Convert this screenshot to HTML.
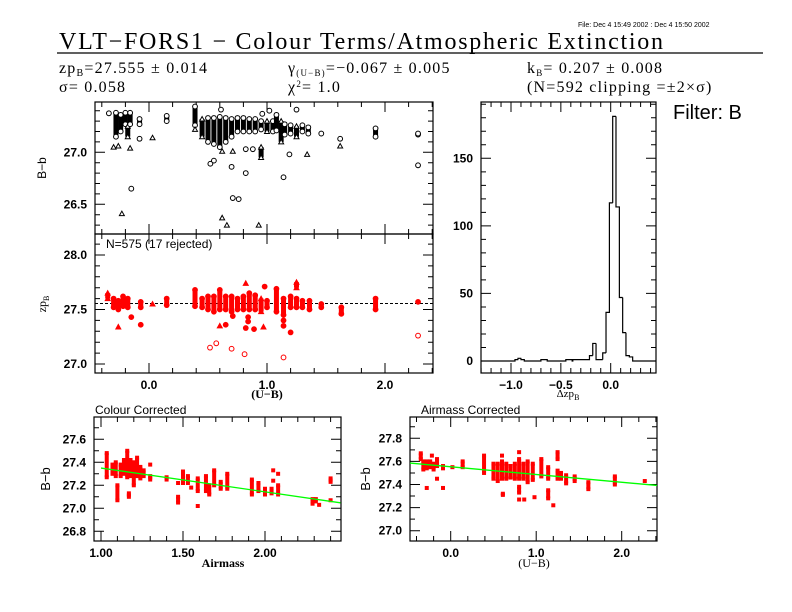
<!DOCTYPE html>
<html><head><meta charset="utf-8"><style>
body{margin:0;background:#fff}
svg{display:block}
text{font-family:"Liberation Sans",sans-serif}
.serif{font-family:"Liberation Serif",serif}
.par{font-family:"Liberation Serif",serif;font-size:16px;letter-spacing:1.2px}
</style></head><body>
<svg id="c" width="792" height="612" viewBox="0 0 792 612">
<text x="578" y="27" font-size="7">File: Dec  4 15:49 2002 : Dec  4 15:50 2002</text>
<text class="serif" x="59" y="49" font-size="24" textLength="604" lengthAdjust="spacing">VLT−FORS1 − Colour Terms/Atmospheric Extinction</text>
<line x1="57" y1="53" x2="763" y2="53" stroke="#000" stroke-width="1.2"/>
<text class="par" x="59" y="73">zp<tspan font-size="10" dy="3">B</tspan><tspan dy="-3">=27.555 ± 0.014</tspan></text>
<text class="par" x="59" y="92">σ= 0.058</text>
<text class="par" x="288" y="73">γ<tspan font-size="9" dy="3">(U−B)</tspan><tspan dy="-3">=−0.067 ± 0.005</tspan></text>
<text class="par" x="288" y="92">χ<tspan font-size="9" dy="-5">2</tspan><tspan dy="5">=  1.0</tspan></text>
<text class="par" x="527" y="73">k<tspan font-size="9" dy="3">B</tspan><tspan dy="-3">= 0.207 ± 0.008</tspan></text>
<text class="par" x="527" y="92">(N=592 clipping =±2×σ)</text>
<text x="673" y="119" font-size="20">Filter: B</text>
<text x="106" y="248" font-size="12">N=575 (17 rejected)</text>
<text x="95" y="414" font-size="12">Colour Corrected</text>
<text x="421" y="414" font-size="12">Airmass Corrected</text>
<text class="serif" x="267" y="398" font-size="12" font-weight="bold" text-anchor="middle">(U−B)</text>
<text class="serif" x="568" y="397" font-size="11" text-anchor="middle">Δzp<tspan font-size="8" dy="3">B</tspan></text>
<text class="serif" x="223" y="567" font-size="12" font-weight="bold" text-anchor="middle">Airmass</text>
<text class="serif" x="534" y="567" font-size="12" text-anchor="middle">(U−B)</text>
<text x="46" y="168" font-size="12" text-anchor="middle" transform="rotate(-90 46 168)">B−b</text>
<text class="serif" x="46" y="304" font-size="12" text-anchor="middle" transform="rotate(-90 46 304)">zp<tspan font-size="8" dy="3">B</tspan></text>
<text x="50" y="479" font-size="13" text-anchor="middle" transform="rotate(-90 50 479)">B−b</text>
<text x="370" y="479" font-size="13" text-anchor="middle" transform="rotate(-90 370 479)">B−b</text>
</svg>
<script>
// ---- top panel (U-B vs B-b, raw) ----
const topX=[-0.34,-0.30,-0.28,-0.26,-0.24,-0.23,-0.20,-0.18,-0.16,-0.15,-0.16,-0.08,-0.08,0.03,0.15,0.39,0.39,0.45,0.50,0.55,0.60,0.65,0.70,0.75,0.80,0.85,0.90,0.95,1.00,1.05,1.08,1.12,1.15,1.20,1.25,1.30,1.35,1.46,1.62,1.62,1.92,2.28,2.28,0.52,0.55,0.70,0.82,1.14,0.71,0.76,0.62,0.66,0.93,1.19,1.34,0.88,0.82,0.71,0.62,0.95,1.25,1.02,0.96,0.61];
const topLo=[27.375,27.05,27.15,27.06,27.20,26.41,27.27,27.15,27.04,26.65,27.27,27.27,27.13,27.14,27.30,27.26,27.22,27.15,27.10,27.08,27.05,27.10,27.15,27.20,27.20,27.20,27.20,27.22,27.20,27.20,27.21,27.10,27.17,27.18,27.15,27.20,27.18,27.18,27.13,27.06,27.15,27.17,26.875,26.89,26.92,26.86,26.80,26.76,26.56,26.55,26.37,26.30,26.30,26.98,26.98,27.03,27.03,27.01,27.01,26.95,27.41,27.40,27.37,27.41];
const topHi=[27.375,27.05,27.38,27.06,27.36,26.41,27.38,27.25,27.04,26.65,27.38,27.32,27.13,27.14,27.35,27.44,27.22,27.32,27.33,27.33,27.34,27.33,27.32,27.33,27.33,27.32,27.32,27.30,27.30,27.30,27.36,27.30,27.27,27.26,27.25,27.26,27.24,27.18,27.13,27.06,27.23,27.18,26.875,26.89,26.92,26.86,26.80,26.76,26.56,26.55,26.37,26.30,26.30,26.98,26.98,27.03,27.03,27.01,27.01,27.05,27.41,27.40,27.37,27.41];
const topShape=['o','t','o','t','o','t','o','t','t','o','o','o','o','t','o','o','t','t','o','o','o','o','o','o','o','o','o','o','t','o','o','t','o','o','t','o','o','o','o','t','o','o','o','o','o','o','o','o','o','o','t','t','t','o','t','o','o','t','t','t','o','o','o','o'];
// ---- middle panel (U-B vs zp) ----
const midX=[-0.35,-0.30,-0.26,-0.22,-0.18,-0.15,-0.26,-0.07,-0.07,0.03,0.15,0.39,0.45,0.50,0.55,0.60,0.65,0.70,0.75,0.80,0.85,0.90,0.95,1.00,1.08,1.14,1.14,1.14,1.20,1.25,1.30,1.36,1.20,1.25,1.46,1.63,1.92,2.28,0.60,0.65,0.82,0.89,0.97,0.71,0.84,0.84,0.98,0.82];
const midLo=[27.60,27.52,27.50,27.53,27.52,27.43,27.34,27.36,27.52,27.55,27.54,27.53,27.52,27.50,27.48,27.50,27.50,27.48,27.50,27.50,27.50,27.50,27.48,27.52,27.48,27.45,27.40,27.35,27.52,27.52,27.52,27.50,27.29,27.70,27.52,27.46,27.50,27.57,27.35,27.36,27.33,27.32,27.34,27.44,27.43,27.39,27.71,27.74];
const midHi=[27.65,27.60,27.58,27.62,27.60,27.43,27.34,27.36,27.57,27.55,27.60,27.68,27.60,27.62,27.62,27.68,27.62,27.62,27.60,27.62,27.65,27.63,27.60,27.58,27.69,27.60,27.40,27.35,27.62,27.60,27.58,27.58,27.29,27.75,27.55,27.52,27.60,27.57,27.35,27.36,27.33,27.32,27.34,27.44,27.43,27.39,27.71,27.74];
const midShape=['t','o','o','o','o','o','t','o','o','t','o','o','o','o','o','o','o','o','o','o','o','o','t','o','o','o','o','o','o','o','o','o','o','t','o','o','o','o','t','o','o','o','t','o','o','o','o','t'];
const rejX=[0.517,0.57,0.70,0.81,1.14,2.28];
const rejY=[27.15,27.19,27.14,27.09,27.06,27.26];
const zpFit=27.555;
// ---- histogram ----
const binStart=[-0.96,-0.93,-0.90,-0.70,-0.67,-0.45,-0.42,-0.38,-0.35,-0.313,-0.28,-0.247,-0.213,-0.18,-0.147,-0.113,-0.08,-0.047,-0.013,0.02,0.053,0.087,0.12,0.153,0.187];
const binCount=[1,2,1,1,1,1,1,1,1,1,1,1,4,13,1,1,6,36,117,181,114,47,21,4,3];
const binWidth=0.0333;
// ---- bottom left (airmass vs B-b) ----
const amX=[1.035,1.07,1.09,1.10,1.12,1.14,1.16,1.17,1.18,1.20,1.22,1.24,1.26,1.30,1.30,1.40,1.47,1.47,1.50,1.53,1.55,1.59,1.59,1.64,1.66,1.69,1.73,1.77,1.92,1.96,2.00,2.04,2.05,2.05,2.08,2.08,2.29,2.31,2.33,2.40,2.40];
const amLo=[27.27,27.30,27.28,27.07,27.28,27.30,27.27,27.10,27.28,27.20,27.28,27.26,27.28,27.25,27.38,27.25,27.05,27.22,27.22,27.22,27.18,27.15,27.02,27.15,27.12,27.20,27.17,27.17,27.12,27.15,27.12,27.13,27.24,27.33,27.12,27.30,27.04,27.06,27.03,27.23,27.07];
const amHi=[27.48,27.38,27.40,27.20,27.38,27.42,27.50,27.13,27.42,27.40,27.44,27.36,27.33,27.28,27.38,27.27,27.10,27.22,27.32,27.28,27.18,27.26,27.02,27.28,27.20,27.33,27.23,27.30,27.25,27.22,27.17,27.17,27.24,27.33,27.20,27.30,27.08,27.08,27.03,27.26,27.07];
const amFitA=27.35, amFitK=0.207;
// ---- bottom right (U-B vs B-b airmass-corrected) ----
const acX=[-0.35,-0.32,-0.28,-0.24,-0.20,-0.16,-0.28,-0.16,-0.09,-0.09,-0.22,0.02,0.14,0.39,0.39,0.50,0.55,0.60,0.65,0.70,0.75,0.80,0.85,0.90,0.96,0.60,0.61,0.80,0.80,0.80,0.86,0.98,1.06,1.14,1.14,1.20,1.25,1.25,1.29,1.35,1.45,1.61,1.92,2.27];
const acLo=[27.62,27.53,27.54,27.55,27.53,27.56,27.37,27.45,27.37,27.54,27.65,27.55,27.55,27.52,27.50,27.45,27.43,27.45,27.45,27.46,27.45,27.45,27.45,27.42,27.44,27.65,27.31,27.68,27.33,27.27,27.27,27.29,27.47,27.28,27.45,27.22,27.62,27.45,27.45,27.41,27.43,27.36,27.40,27.43];
const acHi=[27.67,27.60,27.60,27.60,27.58,27.62,27.37,27.45,27.37,27.56,27.65,27.55,27.60,27.65,27.50,27.58,27.58,27.60,27.58,27.56,27.58,27.62,27.58,27.60,27.58,27.65,27.32,27.68,27.38,27.27,27.27,27.29,27.62,27.35,27.55,27.22,27.68,27.52,27.50,27.48,27.47,27.42,27.47,27.43];
const acFitA=27.554, acFitK=-0.067;

const svg=document.getElementById('c');
const NS='http://www.w3.org/2000/svg';
function mk(tag,attrs,parent){const e=document.createElementNS(NS,tag);for(const k in attrs)e.setAttribute(k,attrs[k]);(parent||svg).appendChild(e);return e;}
function lin(d0,d1,r0,r1){return v=>r0+(v-d0)*(r1-r0)/(d1-d0);}
function frame(name,x0,y0,x1,y1,sx,sy,xr,yr,xmin,xmaj,ymin,ymaj,xfmt,yfmt){
  const g=mk('g',{});
  
  
  const r=mk('rect',{x:x0,y:y0,width:x1-x0,height:y1-y0,fill:'none',stroke:'#000','stroke-width':1.2},g);
  
  
  let d='';
  for(let v=Math.ceil(xr[0]/xmin-1e-6)*xmin;v<=xr[1]+1e-9;v+=xmin){const X=sx(v);const maj=Math.abs(v/xmaj-Math.round(v/xmaj))<1e-6;const L=maj?10:5;d+=`M${X} ${y1}v${-L}M${X} ${y0}v${L}`;
    if(maj&&xfmt){const t=mk('text',{x:X,y:y1+16,'font-size':12,'text-anchor':'middle','font-weight':'bold'},g);t.textContent=xfmt(Math.round(v/xmaj)*xmaj);}}
  for(let v=Math.ceil(Math.min(yr[0],yr[1])/ymin-1e-6)*ymin;v<=Math.max(yr[0],yr[1])+1e-9;v+=ymin){const Y=sy(v);const maj=Math.abs(v/ymaj-Math.round(v/ymaj))<1e-6;const L=maj?10:5;d+=`M${x0} ${Y}h${L}M${x1} ${Y}h${-L}`;
    if(maj&&yfmt){const t=mk('text',{x:x0-8,y:Y+4,'font-size':12,'text-anchor':'end','font-weight':'bold'},g);t.textContent=yfmt(Math.round(v/ymaj)*ymaj);}}
  const p=mk('path',{d:d,stroke:'#000','stroke-width':1,fill:'none'},g);
  
  
  return g;
}
function marker(g,X,Y,shape,color,fill){
  if(shape==='t'){return mk('path',{d:`M${X-2.5} ${Y+2}L${X+2.5} ${Y+2}L${X} ${Y-2.5}Z`,fill:fill?color:'#fff',stroke:color,'stroke-width':1},g);}
  if(shape==='s'){return mk('rect',{x:X-2,y:Y-2,width:4,height:4,fill:color},g);}
  return mk('circle',{cx:X,cy:Y,r:2.4,fill:fill?color:'#fff',stroke:color,'stroke-width':1},g);
}
function columns(g,sx,sy,xs,lo,hi,shapes,color,fill,w){
  for(let i=0;i<xs.length;i++){
    const X=sx(xs[i]),Y1=sy(lo[i]),Y2=sy(hi[i]);
    if(Math.abs(Y1-Y2)>0.5){const l=mk('line',{x1:X,y1:Y1,x2:X,y2:Y2,stroke:color,'stroke-width':w},g);
      
      }
    const sh=shapes?shapes[i]:'s';
    const a=marker(g,X,Y1,sh,color,fill);
    
    
    if(Math.abs(Y1-Y2)>0.5){const b=marker(g,X,Y2,sh,color,fill);
      
      }
  }
}
const fmtN=d=>v=>{const s=Math.abs(v).toFixed(d);return (v<-1e-9?'−':'')+s;};
const f1=fmtN(1), f2=fmtN(2);
// top panel
const tx=lin(0,1,149,267), tyS=lin(27.0,26.5,152.3,204.3);
const gTop=frame('raw-bb-panel',95,102,433,234,tx,tyS,[-0.46,2.4],[27.48,26.21],0.2,1,0.1,0.5,null,f1);
columns(gTop,tx,tyS,topX,topLo,topHi,topShape,'#000',false,5);
// middle panel
const my=lin(28.0,27.0,255,364);
const gMid=frame('zp-panel',95,234,433,373,tx,my,[-0.46,2.4],[26.92,28.19],0.2,1,0.1,0.5,f1,f1);
const dl=mk('line',{x1:95,x2:433,y1:my(zpFit),y2:my(zpFit),stroke:'#000','stroke-dasharray':'3,2','stroke-width':1},gMid);


columns(gMid,tx,my,midX,midLo,midHi,midShape,'#f00',true,5);
for(let i=0;i<rejX.length;i++){const m=marker(gMid,tx(rejX[i]),my(rejY[i]),'o','#f00',false);
  
  }
// histogram
const hx=lin(0,1,610.7,710.4), hy=lin(0,150,361,158.3);
const gH=frame('residual-histogram',481,102,656,373,hx,hy,[-1.3,0.45],[-8,191],0.1,0.5,10,50,f1,v=>v.toFixed(0));
const y0h=hy(0);
let hd=`M481 ${y0h}`;
for(let i=0;i<binStart.length;i++){
  const a=hx(binStart[i]),b=hx(binStart[i]+binWidth),Y=hy(binCount[i]);
  hd+=`L${a} ${i>0&&Math.abs(binStart[i]-binStart[i-1]-binWidth)<0.005?hy(binCount[i-1]):y0h}L${a} ${Y}L${b} ${Y}`;
  const contiguous=i<binStart.length-1&&Math.abs(binStart[i+1]-binStart[i]-binWidth)<0.005;
  if(!contiguous)hd+=`L${b} ${y0h}`;
}
hd+=`L656 ${y0h}`;
const hp=mk('path',{d:hd,fill:'none',stroke:'#000','stroke-width':1.2},gH);


// bottom left
const ax=lin(1,2,101,265), ay=lin(27.6,27.0,439.3,508.3);
const gA=frame('colour-corrected-panel',94,417,341,541,ax,ay,[0.96,2.46],[26.72,27.79],0.1,0.5,0.1,0.2,f2,f1);
columns(gA,ax,ay,amX,amLo,amHi,null,'#f00',true,4);
const gl=mk('line',{x1:ax(1.0),y1:ay(amFitA),x2:ax(2.46),y2:ay(amFitA-amFitK*1.46),stroke:'#0f0','stroke-width':1.3},gA);


// bottom right
const bx=lin(0,1,450.7,536.2), by=lin(27.8,27.0,438.3,530.7);
const gB=frame('airmass-corrected-panel',410,417,657,541,bx,by,[-0.46,2.42],[26.91,27.98],0.2,1,0.1,0.2,f1,f1);
columns(gB,bx,by,acX,acLo,acHi,null,'#f00',true,4);
const gl2=mk('line',{x1:410,y1:by(acFitA+acFitK*-0.47),x2:657,y2:by(acFitA+acFitK*2.42),stroke:'#0f0','stroke-width':1.3},gB);


</script>
</body></html>
